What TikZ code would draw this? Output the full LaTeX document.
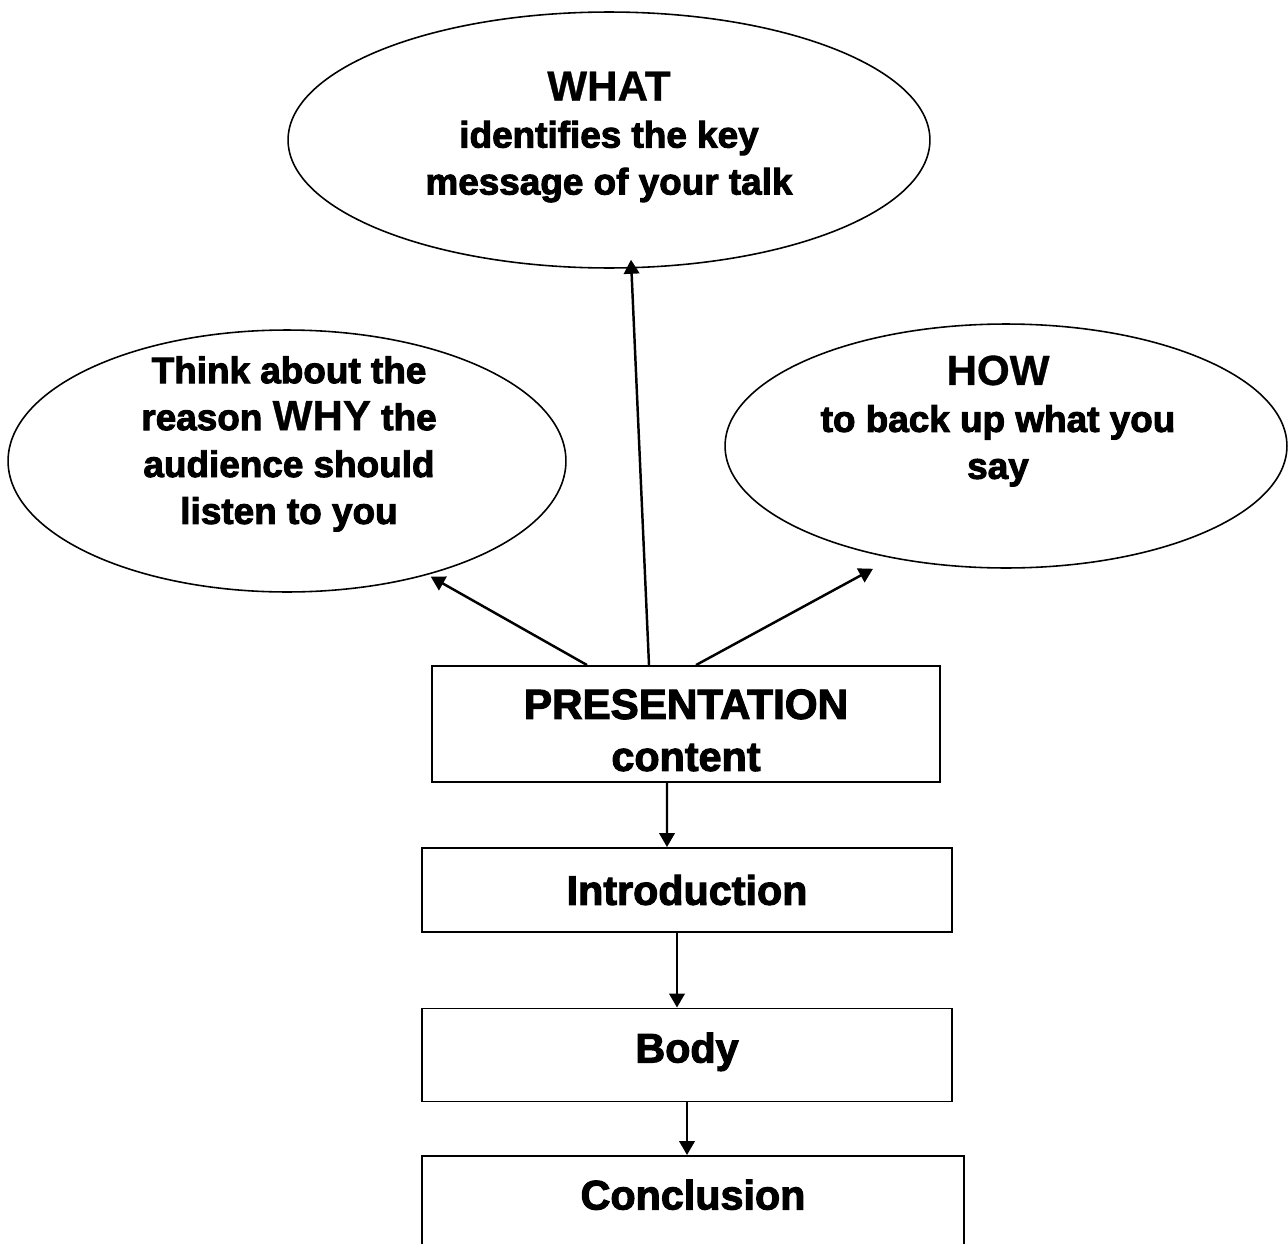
\documentclass[tikz,border=0pt]{standalone}
\usepackage{fontspec}
\setmainfont{Liberation Sans}
\newfontfamily\heavyfont{Liberation Sans}[BoldFeatures={FakeBold=2.6}]
\newfontfamily\capsfont{Liberation Sans}[BoldFeatures={FakeBold=0.8}]
\usetikzlibrary{arrows.meta,shapes.geometric}
\tikzset{
  figure/.style={x=0.02cm,y=-0.02cm,font=\heavyfont\bfseries,>={Triangle[length=2.8mm,width=3.1mm]}},
  bubble/.style={draw,ellipse,line width=0.9pt,inner sep=0pt},
  bubbletext/.style={align=center,font=\heavyfont\bfseries\fontsize{21}{26.7}\selectfont},
  stage/.style={draw,line width=1.1pt,inner sep=0pt,align=center,font=\heavyfont\bfseries\fontsize{23.5}{29.6}\selectfont},
  link/.style={->,line width=1.4pt},
}
\newcommand\keyword[1]{{\capsfont\bfseries\fontsize{24}{26.7}\selectfont #1}}

\begin{document}
\begin{tikzpicture}[figure]
  \useasboundingbox (0,0) rectangle (1288,1244);
  \clip (0,0) rectangle (1288,1244);

  \node[bubble,minimum width=12.84cm,minimum height=5.12cm] (what) at (609,140) {};
  \node[bubbletext] (whattext) at (609,137)
    {\keyword{WHAT}\\identifies the key\\message of your talk};

  \node[bubble,minimum width=11.16cm,minimum height=5.24cm] (why) at (287,461) {};
  \node[bubbletext] (whytext) at (289,444)
    {Think about the\\reason \keyword{WHY} the\\audience should\\listen to you};

  \node[bubble,minimum width=11.24cm,minimum height=4.88cm] (how) at (1006,446) {};
  \node[bubbletext] (howtext) at (998,421)
    {\keyword{HOW}\\to back up what you\\say};

  \node[stage,minimum width=10.18cm,minimum height=2.32cm] (pres) at (686,724)
    {\rule{0pt}{24pt}{\fontsize{24}{29.6}\selectfont PRESENTATION}\\content};
  \node[stage,minimum width=10.62cm,minimum height=1.68cm] (intro) at (687,890) {Introduction};
  \node[stage,minimum width=10.62cm,minimum height=1.86cm,text depth=0.3cm] (body) at (687,1055) {Body};
  \node[stage,minimum width=10.84cm,text height=1.07cm,text depth=2cm,anchor=north] (concl) at (693,1155) {Conclusion};

  \draw[link,shorten >=2pt] ([xshift=-1.98cm]pres.north) -- (why.-39);
  \draw[link] ([xshift=-0.74cm]pres.north) -- ([xshift=0.44cm,yshift=0.18cm]what.south);
  \draw[link] ([xshift=0.2cm]pres.north) -- ([xshift=-2.66cm]how.south);
  \draw[link] ([xshift=-0.38cm]pres.south) -- ([xshift=-0.4cm]intro.north);
  \draw[link] ([xshift=-0.2cm]intro.south) -- ([xshift=-0.2cm]body.north);
  \draw[link] (body.south) -- (body.south |- concl.north);
\end{tikzpicture}
\end{document}
